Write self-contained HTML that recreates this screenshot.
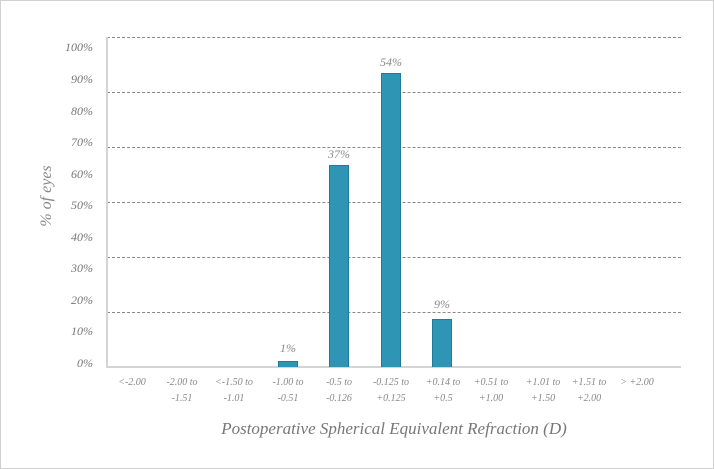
<!DOCTYPE html>
<html><head><style>
body{margin:0;background:#fff}
.w{position:relative;width:712px;height:467px;border:1px solid #d0d0d0;overflow:hidden;font-family:"Liberation Serif",serif;font-style:italic;color:#777}
.t{position:absolute;font-size:12px;text-align:right;width:50px}
.g{position:absolute;left:106px;width:574px;border-top:1px dashed #888;height:0}
.b{position:absolute;width:18px;background:#2e95b4;border:1px solid #1f7c99;border-bottom:none}
.l{position:absolute;font-size:10px;text-align:center;width:60px;line-height:16px;color:#888}
.v{position:absolute;font-size:12px;text-align:center;width:40px;color:#888}
</style></head><body><div class="w">
<div class="t" style="left:42px;top:39px">100%</div>
<div class="t" style="left:42px;top:71px">90%</div>
<div class="t" style="left:42px;top:103px">80%</div>
<div class="t" style="left:42px;top:134px">70%</div>
<div class="t" style="left:42px;top:166px">60%</div>
<div class="t" style="left:42px;top:197px">50%</div>
<div class="t" style="left:42px;top:229px">40%</div>
<div class="t" style="left:42px;top:260px">30%</div>
<div class="t" style="left:42px;top:292px">20%</div>
<div class="t" style="left:42px;top:323px">10%</div>
<div class="t" style="left:42px;top:355px">0%</div>
<div style="position:absolute;left:1px;top:186px;width:90px;text-align:center;transform:rotate(-90deg);font-size:16px;color:#888">% of eyes</div>
<div class="g" style="top:36px"></div>
<div class="g" style="top:91px"></div>
<div class="g" style="top:146px"></div>
<div class="g" style="top:201px"></div>
<div class="g" style="top:256px"></div>
<div class="g" style="top:311px"></div>
<div style="position:absolute;left:105px;top:36px;width:2px;height:331px;background:#d4d4d4"></div>
<div style="position:absolute;left:105px;top:365px;width:575px;height:2px;background:#d4d4d4"></div>
<div class="b" style="left:277px;top:360px;height:5px"></div>
<div class="b" style="left:328px;top:164px;height:201px"></div>
<div class="b" style="left:380px;top:72px;height:293px"></div>
<div class="b" style="left:431px;top:318px;height:47px"></div>
<div class="v" style="left:267px;top:340px">1%</div>
<div class="v" style="left:318px;top:146px">37%</div>
<div class="v" style="left:370px;top:54px">54%</div>
<div class="v" style="left:421px;top:296px">9%</div>
<div class="l" style="left:101px;top:374px">&lt;-2.00</div>
<div class="l" style="left:151px;top:374px">-2.00 to<br>-1.51</div>
<div class="l" style="left:203px;top:374px">&lt;-1.50 to<br>-1.01</div>
<div class="l" style="left:257px;top:374px">-1.00 to<br>-0.51</div>
<div class="l" style="left:308px;top:374px">-0.5 to<br>-0.126</div>
<div class="l" style="left:360px;top:374px">-0.125 to<br>+0.125</div>
<div class="l" style="left:412px;top:374px">+0.14 to<br>+0.5</div>
<div class="l" style="left:460px;top:374px">+0.51 to<br>+1.00</div>
<div class="l" style="left:512px;top:374px">+1.01 to<br>+1.50</div>
<div class="l" style="left:558px;top:374px">+1.51 to<br>+2.00</div>
<div class="l" style="left:606px;top:374px">&gt; +2.00</div>
<div style="position:absolute;left:93px;top:418px;width:600px;text-align:center;font-size:17px;color:#777">Postoperative Spherical Equivalent Refraction (D)</div>
</div></body></html>
